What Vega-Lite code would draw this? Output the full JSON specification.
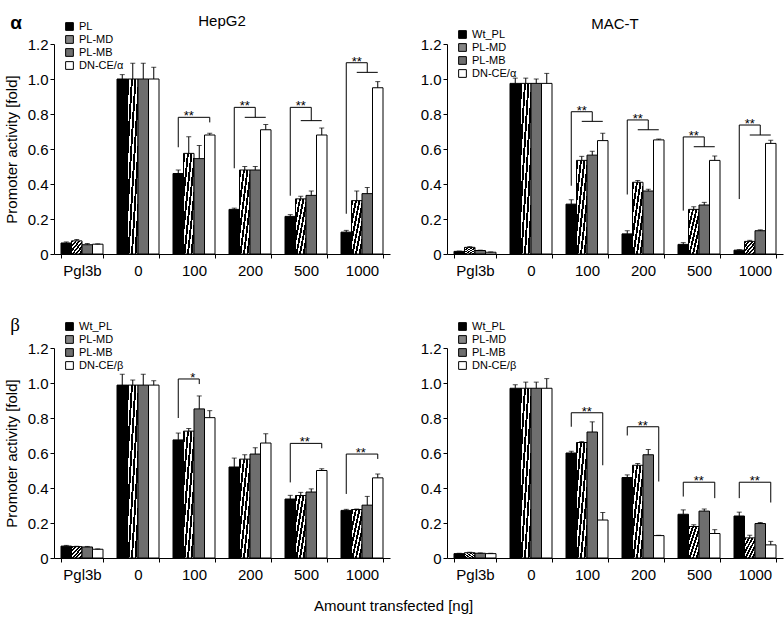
{
  "$schema": "https://vega.github.io/schema/vega-lite/v6.json",
  "padding": {"left": 4, "top": 14, "right": 2, "bottom": 5},
  "datasets": {
    "bars": [
      {"panel": "HepG2 α", "group": "Pgl3b", "series": "PL", "value": 0.063, "upper": 0.069},
      {"panel": "HepG2 α", "group": "Pgl3b", "series": "PL-MD", "value": 0.075, "upper": 0.083},
      {"panel": "HepG2 α", "group": "Pgl3b", "series": "PL-MB", "value": 0.053, "upper": 0.06},
      {"panel": "HepG2 α", "group": "Pgl3b", "series": "DN-CE", "value": 0.056, "upper": 0.058},
      {"panel": "HepG2 α", "group": "0", "series": "PL", "value": 1.0, "upper": 1.025},
      {"panel": "HepG2 α", "group": "0", "series": "PL-MD", "value": 1.0, "upper": 1.09},
      {"panel": "HepG2 α", "group": "0", "series": "PL-MB", "value": 1.0, "upper": 1.09},
      {"panel": "HepG2 α", "group": "0", "series": "DN-CE", "value": 1.0, "upper": 1.067},
      {"panel": "HepG2 α", "group": "100", "series": "PL", "value": 0.46, "upper": 0.48},
      {"panel": "HepG2 α", "group": "100", "series": "PL-MD", "value": 0.575, "upper": 0.67},
      {"panel": "HepG2 α", "group": "100", "series": "PL-MB", "value": 0.545, "upper": 0.62},
      {"panel": "HepG2 α", "group": "100", "series": "DN-CE", "value": 0.68, "upper": 0.69},
      {"panel": "HepG2 α", "group": "200", "series": "PL", "value": 0.255, "upper": 0.262},
      {"panel": "HepG2 α", "group": "200", "series": "PL-MD", "value": 0.48, "upper": 0.5},
      {"panel": "HepG2 α", "group": "200", "series": "PL-MB", "value": 0.48, "upper": 0.5},
      {"panel": "HepG2 α", "group": "200", "series": "DN-CE", "value": 0.71, "upper": 0.74},
      {"panel": "HepG2 α", "group": "500", "series": "PL", "value": 0.215, "upper": 0.225},
      {"panel": "HepG2 α", "group": "500", "series": "PL-MD", "value": 0.315, "upper": 0.33},
      {"panel": "HepG2 α", "group": "500", "series": "PL-MB", "value": 0.335, "upper": 0.36},
      {"panel": "HepG2 α", "group": "500", "series": "DN-CE", "value": 0.68, "upper": 0.72},
      {"panel": "HepG2 α", "group": "1000", "series": "PL", "value": 0.125, "upper": 0.135},
      {"panel": "HepG2 α", "group": "1000", "series": "PL-MD", "value": 0.305, "upper": 0.36},
      {"panel": "HepG2 α", "group": "1000", "series": "PL-MB", "value": 0.345, "upper": 0.38},
      {"panel": "HepG2 α", "group": "1000", "series": "DN-CE", "value": 0.95, "upper": 0.985},

      {"panel": "MAC-T α", "group": "Pgl3b", "series": "PL", "value": 0.015, "upper": 0.017},
      {"panel": "MAC-T α", "group": "Pgl3b", "series": "PL-MD", "value": 0.038, "upper": 0.042},
      {"panel": "MAC-T α", "group": "Pgl3b", "series": "PL-MB", "value": 0.02, "upper": 0.022},
      {"panel": "MAC-T α", "group": "Pgl3b", "series": "DN-CE", "value": 0.01, "upper": 0.012},
      {"panel": "MAC-T α", "group": "0", "series": "PL", "value": 0.975, "upper": 1.005},
      {"panel": "MAC-T α", "group": "0", "series": "PL-MD", "value": 0.975, "upper": 1.005},
      {"panel": "MAC-T α", "group": "0", "series": "PL-MB", "value": 0.975, "upper": 1.0},
      {"panel": "MAC-T α", "group": "0", "series": "DN-CE", "value": 0.975, "upper": 1.032},
      {"panel": "MAC-T α", "group": "100", "series": "PL", "value": 0.285, "upper": 0.31},
      {"panel": "MAC-T α", "group": "100", "series": "PL-MD", "value": 0.535, "upper": 0.558},
      {"panel": "MAC-T α", "group": "100", "series": "PL-MB", "value": 0.565, "upper": 0.587},
      {"panel": "MAC-T α", "group": "100", "series": "DN-CE", "value": 0.648, "upper": 0.69},
      {"panel": "MAC-T α", "group": "200", "series": "PL", "value": 0.115, "upper": 0.133},
      {"panel": "MAC-T α", "group": "200", "series": "PL-MD", "value": 0.41, "upper": 0.42},
      {"panel": "MAC-T α", "group": "200", "series": "PL-MB", "value": 0.36, "upper": 0.37},
      {"panel": "MAC-T α", "group": "200", "series": "DN-CE", "value": 0.652, "upper": 0.657},
      {"panel": "MAC-T α", "group": "500", "series": "PL", "value": 0.055, "upper": 0.065},
      {"panel": "MAC-T α", "group": "500", "series": "PL-MD", "value": 0.255, "upper": 0.27},
      {"panel": "MAC-T α", "group": "500", "series": "PL-MB", "value": 0.28, "upper": 0.295},
      {"panel": "MAC-T α", "group": "500", "series": "DN-CE", "value": 0.535, "upper": 0.56},
      {"panel": "MAC-T α", "group": "1000", "series": "PL", "value": 0.022, "upper": 0.025},
      {"panel": "MAC-T α", "group": "1000", "series": "PL-MD", "value": 0.072, "upper": 0.078},
      {"panel": "MAC-T α", "group": "1000", "series": "PL-MB", "value": 0.133, "upper": 0.138},
      {"panel": "MAC-T α", "group": "1000", "series": "DN-CE", "value": 0.632, "upper": 0.65},

      {"panel": "HepG2 β", "group": "Pgl3b", "series": "PL", "value": 0.068, "upper": 0.072},
      {"panel": "HepG2 β", "group": "Pgl3b", "series": "PL-MD", "value": 0.065, "upper": 0.067},
      {"panel": "HepG2 β", "group": "Pgl3b", "series": "PL-MB", "value": 0.063, "upper": 0.066},
      {"panel": "HepG2 β", "group": "Pgl3b", "series": "DN-CE", "value": 0.05, "upper": 0.052},
      {"panel": "HepG2 β", "group": "0", "series": "PL", "value": 0.988, "upper": 1.05},
      {"panel": "HepG2 β", "group": "0", "series": "PL-MD", "value": 0.988, "upper": 1.017},
      {"panel": "HepG2 β", "group": "0", "series": "PL-MB", "value": 0.988, "upper": 1.05},
      {"panel": "HepG2 β", "group": "0", "series": "DN-CE", "value": 0.988, "upper": 1.013},
      {"panel": "HepG2 β", "group": "100", "series": "PL", "value": 0.675, "upper": 0.714},
      {"panel": "HepG2 β", "group": "100", "series": "PL-MD", "value": 0.725, "upper": 0.74},
      {"panel": "HepG2 β", "group": "100", "series": "PL-MB", "value": 0.852, "upper": 0.926},
      {"panel": "HepG2 β", "group": "100", "series": "DN-CE", "value": 0.802, "upper": 0.842},
      {"panel": "HepG2 β", "group": "200", "series": "PL", "value": 0.52, "upper": 0.571},
      {"panel": "HepG2 β", "group": "200", "series": "PL-MD", "value": 0.565, "upper": 0.59},
      {"panel": "HepG2 β", "group": "200", "series": "PL-MB", "value": 0.594, "upper": 0.63},
      {"panel": "HepG2 β", "group": "200", "series": "DN-CE", "value": 0.657, "upper": 0.71},
      {"panel": "HepG2 β", "group": "500", "series": "PL", "value": 0.337, "upper": 0.358},
      {"panel": "HepG2 β", "group": "500", "series": "PL-MD", "value": 0.357, "upper": 0.375},
      {"panel": "HepG2 β", "group": "500", "series": "PL-MB", "value": 0.377, "upper": 0.395},
      {"panel": "HepG2 β", "group": "500", "series": "DN-CE", "value": 0.5, "upper": 0.51},
      {"panel": "HepG2 β", "group": "1000", "series": "PL", "value": 0.272, "upper": 0.278},
      {"panel": "HepG2 β", "group": "1000", "series": "PL-MD", "value": 0.277, "upper": 0.28},
      {"panel": "HepG2 β", "group": "1000", "series": "PL-MB", "value": 0.302, "upper": 0.352},
      {"panel": "HepG2 β", "group": "1000", "series": "DN-CE", "value": 0.458, "upper": 0.48},

      {"panel": "MAC-T β", "group": "Pgl3b", "series": "PL", "value": 0.025, "upper": 0.027},
      {"panel": "MAC-T β", "group": "Pgl3b", "series": "PL-MD", "value": 0.03, "upper": 0.033},
      {"panel": "MAC-T β", "group": "Pgl3b", "series": "PL-MB", "value": 0.027, "upper": 0.029},
      {"panel": "MAC-T β", "group": "Pgl3b", "series": "DN-CE", "value": 0.025, "upper": 0.027},
      {"panel": "MAC-T β", "group": "0", "series": "PL", "value": 0.97, "upper": 0.99},
      {"panel": "MAC-T β", "group": "0", "series": "PL-MD", "value": 0.97, "upper": 1.005},
      {"panel": "MAC-T β", "group": "0", "series": "PL-MB", "value": 0.97, "upper": 1.005},
      {"panel": "MAC-T β", "group": "0", "series": "DN-CE", "value": 0.97, "upper": 1.025},
      {"panel": "MAC-T β", "group": "100", "series": "PL", "value": 0.6, "upper": 0.61},
      {"panel": "MAC-T β", "group": "100", "series": "PL-MD", "value": 0.66, "upper": 0.665},
      {"panel": "MAC-T β", "group": "100", "series": "PL-MB", "value": 0.72, "upper": 0.778},
      {"panel": "MAC-T β", "group": "100", "series": "DN-CE", "value": 0.217, "upper": 0.26},
      {"panel": "MAC-T β", "group": "200", "series": "PL", "value": 0.46, "upper": 0.475},
      {"panel": "MAC-T β", "group": "200", "series": "PL-MD", "value": 0.53, "upper": 0.54},
      {"panel": "MAC-T β", "group": "200", "series": "PL-MB", "value": 0.59, "upper": 0.62},
      {"panel": "MAC-T β", "group": "200", "series": "DN-CE", "value": 0.128, "upper": 0.13},
      {"panel": "MAC-T β", "group": "500", "series": "PL", "value": 0.25, "upper": 0.275},
      {"panel": "MAC-T β", "group": "500", "series": "PL-MD", "value": 0.18, "upper": 0.19},
      {"panel": "MAC-T β", "group": "500", "series": "PL-MB", "value": 0.268, "upper": 0.28},
      {"panel": "MAC-T β", "group": "500", "series": "DN-CE", "value": 0.14, "upper": 0.162},
      {"panel": "MAC-T β", "group": "1000", "series": "PL", "value": 0.24, "upper": 0.262},
      {"panel": "MAC-T β", "group": "1000", "series": "PL-MD", "value": 0.115, "upper": 0.13},
      {"panel": "MAC-T β", "group": "1000", "series": "PL-MB", "value": 0.197, "upper": 0.203},
      {"panel": "MAC-T β", "group": "1000", "series": "DN-CE", "value": 0.075, "upper": 0.095}
    ],
    "brackets": [
      {"panel": "HepG2 α", "id": "a100", "ord": 1, "group": "100", "series": "PL", "y": 0.61},
      {"panel": "HepG2 α", "id": "a100", "ord": 2, "group": "100", "series": "PL", "y": 0.781},
      {"panel": "HepG2 α", "id": "a100", "ord": 3, "group": "100", "series": "DN-CE", "y": 0.781},
      {"panel": "HepG2 α", "id": "a100", "ord": 4, "group": "100", "series": "DN-CE", "y": 0.752},
      {"panel": "HepG2 α", "id": "a200", "ord": 1, "group": "200", "series": "PL", "y": 0.49},
      {"panel": "HepG2 α", "id": "a200", "ord": 2, "group": "200", "series": "PL", "y": 0.838},
      {"panel": "HepG2 α", "id": "a200", "ord": 3, "group": "200", "series": "PL-MB", "y": 0.838},
      {"panel": "HepG2 α", "id": "a200", "ord": 4, "group": "200", "series": "PL-MB", "y": 0.781},
      {"panel": "HepG2 α", "id": "b200", "ord": 1, "group": "200", "series": "PL-MD", "y": 0.781},
      {"panel": "HepG2 α", "id": "b200", "ord": 2, "group": "200", "series": "DN-CE", "y": 0.781},
      {"panel": "HepG2 α", "id": "a500", "ord": 1, "group": "500", "series": "PL", "y": 0.333},
      {"panel": "HepG2 α", "id": "a500", "ord": 2, "group": "500", "series": "PL", "y": 0.838},
      {"panel": "HepG2 α", "id": "a500", "ord": 3, "group": "500", "series": "PL-MB", "y": 0.838},
      {"panel": "HepG2 α", "id": "a500", "ord": 4, "group": "500", "series": "PL-MB", "y": 0.762},
      {"panel": "HepG2 α", "id": "b500", "ord": 1, "group": "500", "series": "PL-MD", "y": 0.762},
      {"panel": "HepG2 α", "id": "b500", "ord": 2, "group": "500", "series": "DN-CE", "y": 0.762},
      {"panel": "HepG2 α", "id": "a1000", "ord": 1, "group": "1000", "series": "PL", "y": 0.23},
      {"panel": "HepG2 α", "id": "a1000", "ord": 2, "group": "1000", "series": "PL", "y": 1.093},
      {"panel": "HepG2 α", "id": "a1000", "ord": 3, "group": "1000", "series": "PL-MB", "y": 1.093},
      {"panel": "HepG2 α", "id": "a1000", "ord": 4, "group": "1000", "series": "PL-MB", "y": 1.038},
      {"panel": "HepG2 α", "id": "b1000", "ord": 1, "group": "1000", "series": "PL-MD", "y": 1.038},
      {"panel": "HepG2 α", "id": "b1000", "ord": 2, "group": "1000", "series": "DN-CE", "y": 1.038},

      {"panel": "MAC-T α", "id": "a100", "ord": 1, "group": "100", "series": "PL", "y": 0.39},
      {"panel": "MAC-T α", "id": "a100", "ord": 2, "group": "100", "series": "PL", "y": 0.813},
      {"panel": "MAC-T α", "id": "a100", "ord": 3, "group": "100", "series": "PL-MB", "y": 0.813},
      {"panel": "MAC-T α", "id": "a100", "ord": 4, "group": "100", "series": "PL-MB", "y": 0.758},
      {"panel": "MAC-T α", "id": "b100", "ord": 1, "group": "100", "series": "PL-MD", "y": 0.758},
      {"panel": "MAC-T α", "id": "b100", "ord": 2, "group": "100", "series": "DN-CE", "y": 0.758},
      {"panel": "MAC-T α", "id": "a200", "ord": 1, "group": "200", "series": "PL", "y": 0.34},
      {"panel": "MAC-T α", "id": "a200", "ord": 2, "group": "200", "series": "PL", "y": 0.766},
      {"panel": "MAC-T α", "id": "a200", "ord": 3, "group": "200", "series": "PL-MB", "y": 0.766},
      {"panel": "MAC-T α", "id": "a200", "ord": 4, "group": "200", "series": "PL-MB", "y": 0.71},
      {"panel": "MAC-T α", "id": "b200", "ord": 1, "group": "200", "series": "PL-MD", "y": 0.71},
      {"panel": "MAC-T α", "id": "b200", "ord": 2, "group": "200", "series": "DN-CE", "y": 0.71},
      {"panel": "MAC-T α", "id": "a500", "ord": 1, "group": "500", "series": "PL", "y": 0.248},
      {"panel": "MAC-T α", "id": "a500", "ord": 2, "group": "500", "series": "PL", "y": 0.669},
      {"panel": "MAC-T α", "id": "a500", "ord": 3, "group": "500", "series": "PL-MB", "y": 0.669},
      {"panel": "MAC-T α", "id": "a500", "ord": 4, "group": "500", "series": "PL-MB", "y": 0.613},
      {"panel": "MAC-T α", "id": "b500", "ord": 1, "group": "500", "series": "PL-MD", "y": 0.613},
      {"panel": "MAC-T α", "id": "b500", "ord": 2, "group": "500", "series": "DN-CE", "y": 0.613},
      {"panel": "MAC-T α", "id": "a1000", "ord": 1, "group": "1000", "series": "PL", "y": 0.314},
      {"panel": "MAC-T α", "id": "a1000", "ord": 2, "group": "1000", "series": "PL", "y": 0.737},
      {"panel": "MAC-T α", "id": "a1000", "ord": 3, "group": "1000", "series": "PL-MB", "y": 0.737},
      {"panel": "MAC-T α", "id": "a1000", "ord": 4, "group": "1000", "series": "PL-MB", "y": 0.68},
      {"panel": "MAC-T α", "id": "b1000", "ord": 1, "group": "1000", "series": "PL-MD", "y": 0.68},
      {"panel": "MAC-T α", "id": "b1000", "ord": 2, "group": "1000", "series": "DN-CE", "y": 0.68},

      {"panel": "HepG2 β", "id": "a100", "ord": 1, "group": "100", "series": "PL", "y": 0.8},
      {"panel": "HepG2 β", "id": "a100", "ord": 2, "group": "100", "series": "PL", "y": 1.023},
      {"panel": "HepG2 β", "id": "a100", "ord": 3, "group": "100", "series": "PL-MB", "y": 1.023},
      {"panel": "HepG2 β", "id": "a100", "ord": 4, "group": "100", "series": "PL-MB", "y": 0.994},
      {"panel": "HepG2 β", "id": "a500", "ord": 1, "group": "500", "series": "PL", "y": 0.432},
      {"panel": "HepG2 β", "id": "a500", "ord": 2, "group": "500", "series": "PL", "y": 0.655},
      {"panel": "HepG2 β", "id": "a500", "ord": 3, "group": "500", "series": "DN-CE", "y": 0.655},
      {"panel": "HepG2 β", "id": "a500", "ord": 4, "group": "500", "series": "DN-CE", "y": 0.627},
      {"panel": "HepG2 β", "id": "a1000", "ord": 1, "group": "1000", "series": "PL", "y": 0.366},
      {"panel": "HepG2 β", "id": "a1000", "ord": 2, "group": "1000", "series": "PL", "y": 0.594},
      {"panel": "HepG2 β", "id": "a1000", "ord": 3, "group": "1000", "series": "DN-CE", "y": 0.594},
      {"panel": "HepG2 β", "id": "a1000", "ord": 4, "group": "1000", "series": "DN-CE", "y": 0.566},

      {"panel": "MAC-T β", "id": "a100", "ord": 1, "group": "100", "series": "PL", "y": 0.75},
      {"panel": "MAC-T β", "id": "a100", "ord": 2, "group": "100", "series": "PL", "y": 0.83},
      {"panel": "MAC-T β", "id": "a100", "ord": 3, "group": "100", "series": "DN-CE", "y": 0.83},
      {"panel": "MAC-T β", "id": "a100", "ord": 4, "group": "100", "series": "DN-CE", "y": 0.53},
      {"panel": "MAC-T β", "id": "a200", "ord": 1, "group": "200", "series": "PL", "y": 0.7},
      {"panel": "MAC-T β", "id": "a200", "ord": 2, "group": "200", "series": "PL", "y": 0.75},
      {"panel": "MAC-T β", "id": "a200", "ord": 3, "group": "200", "series": "DN-CE", "y": 0.75},
      {"panel": "MAC-T β", "id": "a200", "ord": 4, "group": "200", "series": "DN-CE", "y": 0.437},
      {"panel": "MAC-T β", "id": "a500", "ord": 1, "group": "500", "series": "PL", "y": 0.351},
      {"panel": "MAC-T β", "id": "a500", "ord": 2, "group": "500", "series": "PL", "y": 0.433},
      {"panel": "MAC-T β", "id": "a500", "ord": 3, "group": "500", "series": "DN-CE", "y": 0.433},
      {"panel": "MAC-T β", "id": "a500", "ord": 4, "group": "500", "series": "DN-CE", "y": 0.342},
      {"panel": "MAC-T β", "id": "a1000", "ord": 1, "group": "1000", "series": "PL", "y": 0.342},
      {"panel": "MAC-T β", "id": "a1000", "ord": 2, "group": "1000", "series": "PL", "y": 0.433},
      {"panel": "MAC-T β", "id": "a1000", "ord": 3, "group": "1000", "series": "DN-CE", "y": 0.433},
      {"panel": "MAC-T β", "id": "a1000", "ord": 4, "group": "1000", "series": "DN-CE", "y": 0.317}
    ],
    "stars": [
      {"panel": "HepG2 α", "group": "100", "series": "PL-MD", "y": 0.781, "label": "**"},
      {"panel": "HepG2 α", "group": "200", "series": "PL-MD", "y": 0.838, "label": "**"},
      {"panel": "HepG2 α", "group": "500", "series": "PL-MD", "y": 0.838, "label": "**"},
      {"panel": "HepG2 α", "group": "1000", "series": "PL-MD", "y": 1.093, "label": "**"},
      {"panel": "MAC-T α", "group": "100", "series": "PL-MD", "y": 0.813, "label": "**"},
      {"panel": "MAC-T α", "group": "200", "series": "PL-MD", "y": 0.766, "label": "**"},
      {"panel": "MAC-T α", "group": "500", "series": "PL-MD", "y": 0.669, "label": "**"},
      {"panel": "MAC-T α", "group": "1000", "series": "PL-MD", "y": 0.737, "label": "**"},
      {"panel": "HepG2 β", "group": "100", "series": "PL-MD", "y": 1.023, "label": "*"},
      {"panel": "HepG2 β", "group": "500", "series": "PL-MD", "y": 0.655, "label": "**"},
      {"panel": "HepG2 β", "group": "1000", "series": "PL-MD", "y": 0.594, "label": "**"},
      {"panel": "MAC-T β", "group": "100", "series": "PL-MD", "y": 0.83, "label": "**"},
      {"panel": "MAC-T β", "group": "200", "series": "PL-MD", "y": 0.75, "label": "**"},
      {"panel": "MAC-T β", "group": "500", "series": "PL-MD", "y": 0.433, "label": "**"},
      {"panel": "MAC-T β", "group": "1000", "series": "PL-MD", "y": 0.433, "label": "**"}
    ]
  },
  "title": {"text": "Amount transfected [ng]", "orient": "bottom", "anchor": "middle", "fontSize": 15, "fontWeight": "normal", "offset": 17},
  "spacing": 38,
  "resolve": {"legend": {"fill": "independent"}},
  "vconcat": [
    {
      "title": {"text": "α", "anchor": "start", "frame": "bounds", "fontSize": 19, "fontWeight": "bold", "dy": 23, "dx": 6},
      "spacing": 30,
      "resolve": {"legend": {"fill": "independent"}},
      "hconcat": [
        {
          "width": 336, "height": 210,
          "title": {"text": "HepG2", "dy": 12},
          "encoding": {
            "x": {"field": "group", "type": "nominal", "sort": ["Pgl3b", "0", "100", "200", "500", "1000"], "scale": {"paddingInner": 0.25, "paddingOuter": 0.125}, "axis": {"title": null, "labelAngle": 0, "tickBand": "extent", "labelPadding": 5}},
            "xOffset": {"field": "series", "type": "nominal", "sort": ["PL", "PL-MD", "PL-MB", "DN-CE"]},
            "y": {"type": "quantitative", "scale": {"domain": [0, 1.2], "nice": false}, "title": "Promoter activity [fold]", "axis": {"values": [0, 0.2, 0.4, 0.6, 0.8, 1.0, 1.2], "tickCount": 7, "labelOverlap": false, "labelExpr": "datum.value === 0 ? '0' : format(datum.value, '.1f')", "titlePadding": 8}}
          },
          "layer": [
            {"data": {"name": "bars"}, "transform": [{"filter": "datum.panel === 'HepG2 α'"}],
             "mark": {"type": "bar", "stroke": "black", "strokeWidth": 1},
             "encoding": {
               "y": {"field": "value"},
               "fill": {"condition": {"test": "datum.series === 'PL-MD'", "value": {"gradient": "linear", "x1": 0, "y1": 0, "x2": 1, "y2": 1, "stops": [{"offset": 0, "color": "black"}, {"offset": 0.092, "color": "black"}, {"offset": 0.092, "color": "white"}, {"offset": 0.167, "color": "white"}, {"offset": 0.167, "color": "black"}, {"offset": 0.258, "color": "black"}, {"offset": 0.258, "color": "white"}, {"offset": 0.333, "color": "white"}, {"offset": 0.333, "color": "black"}, {"offset": 0.425, "color": "black"}, {"offset": 0.425, "color": "white"}, {"offset": 0.5, "color": "white"}, {"offset": 0.5, "color": "black"}, {"offset": 0.592, "color": "black"}, {"offset": 0.592, "color": "white"}, {"offset": 0.667, "color": "white"}, {"offset": 0.667, "color": "black"}, {"offset": 0.758, "color": "black"}, {"offset": 0.758, "color": "white"}, {"offset": 0.833, "color": "white"}, {"offset": 0.833, "color": "black"}, {"offset": 0.925, "color": "black"}, {"offset": 0.925, "color": "white"}, {"offset": 1, "color": "white"}]}},
                 "field": "series", "type": "nominal",
                 "scale": {"domain": ["PL", "PL-MD", "PL-MB", "DN-CE"], "range": ["black", "#858585", "#6e6e6e", "white"]},
                 "legend": {"orient": "none", "legendX": 10, "legendY": -23, "title": null, "labelExpr": "datum.value === 'DN-CE' ? 'DN-CE/α' : datum.value",
                   "encode": {"symbols": {"update": {"stroke": {"value": "black"}, "strokeWidth": {"value": 1}, "fill": [{"test": "datum.value === 'PL-MD'", "value": {"gradient": "linear", "x1": 0, "y1": 0, "x2": 1, "y2": 1, "stops": [{"offset": 0, "color": "black"}, {"offset": 0.2, "color": "black"}, {"offset": 0.2, "color": "white"}, {"offset": 0.33, "color": "white"}, {"offset": 0.33, "color": "black"}, {"offset": 0.53, "color": "black"}, {"offset": 0.53, "color": "white"}, {"offset": 0.67, "color": "white"}, {"offset": 0.67, "color": "black"}, {"offset": 0.87, "color": "black"}, {"offset": 0.87, "color": "white"}, {"offset": 1, "color": "white"}]}}, {"test": "datum.value === 'PL'", "value": "black"}, {"test": "datum.value === 'PL-MB'", "value": "#6e6e6e"}, {"value": "white"}]}}}}}
             }},
            {"data": {"name": "bars"}, "transform": [{"filter": "datum.panel === 'HepG2 α'"}],
             "mark": {"type": "rule", "color": "black", "strokeWidth": 1},
             "encoding": {"y": {"field": "value"}, "y2": {"field": "upper"}}},
            {"data": {"name": "bars"}, "transform": [{"filter": "datum.panel === 'HepG2 α'"}],
             "mark": {"type": "tick", "color": "black", "size": 5, "thickness": 1},
             "encoding": {"y": {"field": "upper"}}},
            {"data": {"name": "brackets"}, "transform": [{"filter": "datum.panel === 'HepG2 α'"}],
             "mark": {"type": "line", "color": "black", "strokeWidth": 1},
             "encoding": {"y": {"field": "y"}, "detail": {"field": "id"}, "order": {"field": "ord"}}},
            {"data": {"name": "stars"}, "transform": [{"filter": "datum.panel === 'HepG2 α'"}],
             "mark": {"type": "text", "fontSize": 13, "baseline": "alphabetic", "dy": 3},
             "encoding": {"y": {"field": "y"}, "text": {"field": "label"}}}
          ]
        },
        {
          "width": 336, "height": 210,
          "title": {"text": "MAC-T", "dy": 7},
          "encoding": {
            "x": {"field": "group", "type": "nominal", "sort": ["Pgl3b", "0", "100", "200", "500", "1000"], "scale": {"paddingInner": 0.25, "paddingOuter": 0.125}, "axis": {"title": null, "labelAngle": 0, "tickBand": "extent", "labelPadding": 5}},
            "xOffset": {"field": "series", "type": "nominal", "sort": ["PL", "PL-MD", "PL-MB", "DN-CE"]},
            "y": {"type": "quantitative", "scale": {"domain": [0, 1.2], "nice": false}, "title": null, "axis": {"values": [0, 0.2, 0.4, 0.6, 0.8, 1.0, 1.2], "tickCount": 7, "labelOverlap": false, "labelExpr": "datum.value === 0 ? '0' : format(datum.value, '.1f')"}}
          },
          "layer": [
            {"data": {"name": "bars"}, "transform": [{"filter": "datum.panel === 'MAC-T α'"}],
             "mark": {"type": "bar", "stroke": "black", "strokeWidth": 1},
             "encoding": {
               "y": {"field": "value"},
               "fill": {"condition": {"test": "datum.series === 'PL-MD'", "value": {"gradient": "linear", "x1": 0, "y1": 0, "x2": 1, "y2": 1, "stops": [{"offset": 0, "color": "black"}, {"offset": 0.092, "color": "black"}, {"offset": 0.092, "color": "white"}, {"offset": 0.167, "color": "white"}, {"offset": 0.167, "color": "black"}, {"offset": 0.258, "color": "black"}, {"offset": 0.258, "color": "white"}, {"offset": 0.333, "color": "white"}, {"offset": 0.333, "color": "black"}, {"offset": 0.425, "color": "black"}, {"offset": 0.425, "color": "white"}, {"offset": 0.5, "color": "white"}, {"offset": 0.5, "color": "black"}, {"offset": 0.592, "color": "black"}, {"offset": 0.592, "color": "white"}, {"offset": 0.667, "color": "white"}, {"offset": 0.667, "color": "black"}, {"offset": 0.758, "color": "black"}, {"offset": 0.758, "color": "white"}, {"offset": 0.833, "color": "white"}, {"offset": 0.833, "color": "black"}, {"offset": 0.925, "color": "black"}, {"offset": 0.925, "color": "white"}, {"offset": 1, "color": "white"}]}},
                 "field": "series", "type": "nominal",
                 "scale": {"domain": ["PL", "PL-MD", "PL-MB", "DN-CE"], "range": ["black", "#858585", "#6e6e6e", "white"]},
                 "legend": {"orient": "none", "legendX": 10, "legendY": -15, "title": null, "labelExpr": "datum.value === 'DN-CE' ? 'DN-CE/α' : datum.value === 'PL' ? 'Wt_PL' : datum.value",
                   "encode": {"symbols": {"update": {"stroke": {"value": "black"}, "strokeWidth": {"value": 1}, "fill": [{"test": "datum.value === 'PL-MD'", "value": {"gradient": "linear", "x1": 0, "y1": 0, "x2": 1, "y2": 1, "stops": [{"offset": 0, "color": "black"}, {"offset": 0.2, "color": "black"}, {"offset": 0.2, "color": "white"}, {"offset": 0.33, "color": "white"}, {"offset": 0.33, "color": "black"}, {"offset": 0.53, "color": "black"}, {"offset": 0.53, "color": "white"}, {"offset": 0.67, "color": "white"}, {"offset": 0.67, "color": "black"}, {"offset": 0.87, "color": "black"}, {"offset": 0.87, "color": "white"}, {"offset": 1, "color": "white"}]}}, {"test": "datum.value === 'PL'", "value": "black"}, {"test": "datum.value === 'PL-MB'", "value": "#6e6e6e"}, {"value": "white"}]}}}}}
             }},
            {"data": {"name": "bars"}, "transform": [{"filter": "datum.panel === 'MAC-T α'"}],
             "mark": {"type": "rule", "color": "black", "strokeWidth": 1},
             "encoding": {"y": {"field": "value"}, "y2": {"field": "upper"}}},
            {"data": {"name": "bars"}, "transform": [{"filter": "datum.panel === 'MAC-T α'"}],
             "mark": {"type": "tick", "color": "black", "size": 5, "thickness": 1},
             "encoding": {"y": {"field": "upper"}}},
            {"data": {"name": "brackets"}, "transform": [{"filter": "datum.panel === 'MAC-T α'"}],
             "mark": {"type": "line", "color": "black", "strokeWidth": 1},
             "encoding": {"y": {"field": "y"}, "detail": {"field": "id"}, "order": {"field": "ord"}}},
            {"data": {"name": "stars"}, "transform": [{"filter": "datum.panel === 'MAC-T α'"}],
             "mark": {"type": "text", "fontSize": 13, "baseline": "alphabetic", "dy": 3},
             "encoding": {"y": {"field": "y"}, "text": {"field": "label"}}}
          ]
        }
      ]
    },
    {
      "title": {"text": "β", "anchor": "start", "frame": "bounds", "fontSize": 19, "font": "Liberation Serif", "fontWeight": "normal", "dy": 18, "dx": 6},
      "spacing": 30,
      "resolve": {"legend": {"fill": "independent"}},
      "hconcat": [
        {
          "width": 336, "height": 210,
          "encoding": {
            "x": {"field": "group", "type": "nominal", "sort": ["Pgl3b", "0", "100", "200", "500", "1000"], "scale": {"paddingInner": 0.25, "paddingOuter": 0.125}, "axis": {"title": null, "labelAngle": 0, "tickBand": "extent", "labelPadding": 5}},
            "xOffset": {"field": "series", "type": "nominal", "sort": ["PL", "PL-MD", "PL-MB", "DN-CE"]},
            "y": {"type": "quantitative", "scale": {"domain": [0, 1.2], "nice": false}, "title": "Promoter activity [fold]", "axis": {"values": [0, 0.2, 0.4, 0.6, 0.8, 1.0, 1.2], "tickCount": 7, "labelOverlap": false, "labelExpr": "datum.value === 0 ? '0' : format(datum.value, '.1f')", "titlePadding": 8}}
          },
          "layer": [
            {"data": {"name": "bars"}, "transform": [{"filter": "datum.panel === 'HepG2 β'"}],
             "mark": {"type": "bar", "stroke": "black", "strokeWidth": 1},
             "encoding": {
               "y": {"field": "value"},
               "fill": {"condition": {"test": "datum.series === 'PL-MD'", "value": {"gradient": "linear", "x1": 0, "y1": 0, "x2": 1, "y2": 1, "stops": [{"offset": 0, "color": "black"}, {"offset": 0.092, "color": "black"}, {"offset": 0.092, "color": "white"}, {"offset": 0.167, "color": "white"}, {"offset": 0.167, "color": "black"}, {"offset": 0.258, "color": "black"}, {"offset": 0.258, "color": "white"}, {"offset": 0.333, "color": "white"}, {"offset": 0.333, "color": "black"}, {"offset": 0.425, "color": "black"}, {"offset": 0.425, "color": "white"}, {"offset": 0.5, "color": "white"}, {"offset": 0.5, "color": "black"}, {"offset": 0.592, "color": "black"}, {"offset": 0.592, "color": "white"}, {"offset": 0.667, "color": "white"}, {"offset": 0.667, "color": "black"}, {"offset": 0.758, "color": "black"}, {"offset": 0.758, "color": "white"}, {"offset": 0.833, "color": "white"}, {"offset": 0.833, "color": "black"}, {"offset": 0.925, "color": "black"}, {"offset": 0.925, "color": "white"}, {"offset": 1, "color": "white"}]}},
                 "field": "series", "type": "nominal",
                 "scale": {"domain": ["PL", "PL-MD", "PL-MB", "DN-CE"], "range": ["black", "#858585", "#6e6e6e", "white"]},
                 "legend": {"orient": "none", "legendX": 10, "legendY": -27, "title": null, "labelExpr": "datum.value === 'DN-CE' ? 'DN-CE/β' : datum.value === 'PL' ? 'Wt_PL' : datum.value",
                   "encode": {"symbols": {"update": {"stroke": {"value": "black"}, "strokeWidth": {"value": 1}, "fill": [{"test": "datum.value === 'PL-MD'", "value": {"gradient": "linear", "x1": 0, "y1": 0, "x2": 1, "y2": 1, "stops": [{"offset": 0, "color": "black"}, {"offset": 0.2, "color": "black"}, {"offset": 0.2, "color": "white"}, {"offset": 0.33, "color": "white"}, {"offset": 0.33, "color": "black"}, {"offset": 0.53, "color": "black"}, {"offset": 0.53, "color": "white"}, {"offset": 0.67, "color": "white"}, {"offset": 0.67, "color": "black"}, {"offset": 0.87, "color": "black"}, {"offset": 0.87, "color": "white"}, {"offset": 1, "color": "white"}]}}, {"test": "datum.value === 'PL'", "value": "black"}, {"test": "datum.value === 'PL-MB'", "value": "#6e6e6e"}, {"value": "white"}]}}}}}
             }},
            {"data": {"name": "bars"}, "transform": [{"filter": "datum.panel === 'HepG2 β'"}],
             "mark": {"type": "rule", "color": "black", "strokeWidth": 1},
             "encoding": {"y": {"field": "value"}, "y2": {"field": "upper"}}},
            {"data": {"name": "bars"}, "transform": [{"filter": "datum.panel === 'HepG2 β'"}],
             "mark": {"type": "tick", "color": "black", "size": 5, "thickness": 1},
             "encoding": {"y": {"field": "upper"}}},
            {"data": {"name": "brackets"}, "transform": [{"filter": "datum.panel === 'HepG2 β'"}],
             "mark": {"type": "line", "color": "black", "strokeWidth": 1},
             "encoding": {"y": {"field": "y"}, "detail": {"field": "id"}, "order": {"field": "ord"}}},
            {"data": {"name": "stars"}, "transform": [{"filter": "datum.panel === 'HepG2 β'"}],
             "mark": {"type": "text", "fontSize": 13, "baseline": "alphabetic", "dy": 3, "dx": 4},
             "encoding": {"y": {"field": "y"}, "text": {"field": "label"}}}
          ]
        },
        {
          "width": 336, "height": 210,
          "encoding": {
            "x": {"field": "group", "type": "nominal", "sort": ["Pgl3b", "0", "100", "200", "500", "1000"], "scale": {"paddingInner": 0.25, "paddingOuter": 0.125}, "axis": {"title": null, "labelAngle": 0, "tickBand": "extent", "labelPadding": 5}},
            "xOffset": {"field": "series", "type": "nominal", "sort": ["PL", "PL-MD", "PL-MB", "DN-CE"]},
            "y": {"type": "quantitative", "scale": {"domain": [0, 1.2], "nice": false}, "title": null, "axis": {"values": [0, 0.2, 0.4, 0.6, 0.8, 1.0, 1.2], "tickCount": 7, "labelOverlap": false, "labelExpr": "datum.value === 0 ? '0' : format(datum.value, '.1f')"}}
          },
          "layer": [
            {"data": {"name": "bars"}, "transform": [{"filter": "datum.panel === 'MAC-T β'"}],
             "mark": {"type": "bar", "stroke": "black", "strokeWidth": 1},
             "encoding": {
               "y": {"field": "value"},
               "fill": {"condition": {"test": "datum.series === 'PL-MD'", "value": {"gradient": "linear", "x1": 0, "y1": 0, "x2": 1, "y2": 1, "stops": [{"offset": 0, "color": "black"}, {"offset": 0.092, "color": "black"}, {"offset": 0.092, "color": "white"}, {"offset": 0.167, "color": "white"}, {"offset": 0.167, "color": "black"}, {"offset": 0.258, "color": "black"}, {"offset": 0.258, "color": "white"}, {"offset": 0.333, "color": "white"}, {"offset": 0.333, "color": "black"}, {"offset": 0.425, "color": "black"}, {"offset": 0.425, "color": "white"}, {"offset": 0.5, "color": "white"}, {"offset": 0.5, "color": "black"}, {"offset": 0.592, "color": "black"}, {"offset": 0.592, "color": "white"}, {"offset": 0.667, "color": "white"}, {"offset": 0.667, "color": "black"}, {"offset": 0.758, "color": "black"}, {"offset": 0.758, "color": "white"}, {"offset": 0.833, "color": "white"}, {"offset": 0.833, "color": "black"}, {"offset": 0.925, "color": "black"}, {"offset": 0.925, "color": "white"}, {"offset": 1, "color": "white"}]}},
                 "field": "series", "type": "nominal",
                 "scale": {"domain": ["PL", "PL-MD", "PL-MB", "DN-CE"], "range": ["black", "#858585", "#6e6e6e", "white"]},
                 "legend": {"orient": "none", "legendX": 10, "legendY": -27, "title": null, "labelExpr": "datum.value === 'DN-CE' ? 'DN-CE/β' : datum.value === 'PL' ? 'Wt_PL' : datum.value",
                   "encode": {"symbols": {"update": {"stroke": {"value": "black"}, "strokeWidth": {"value": 1}, "fill": [{"test": "datum.value === 'PL-MD'", "value": {"gradient": "linear", "x1": 0, "y1": 0, "x2": 1, "y2": 1, "stops": [{"offset": 0, "color": "black"}, {"offset": 0.2, "color": "black"}, {"offset": 0.2, "color": "white"}, {"offset": 0.33, "color": "white"}, {"offset": 0.33, "color": "black"}, {"offset": 0.53, "color": "black"}, {"offset": 0.53, "color": "white"}, {"offset": 0.67, "color": "white"}, {"offset": 0.67, "color": "black"}, {"offset": 0.87, "color": "black"}, {"offset": 0.87, "color": "white"}, {"offset": 1, "color": "white"}]}}, {"test": "datum.value === 'PL'", "value": "black"}, {"test": "datum.value === 'PL-MB'", "value": "#6e6e6e"}, {"value": "white"}]}}}}}
             }},
            {"data": {"name": "bars"}, "transform": [{"filter": "datum.panel === 'MAC-T β'"}],
             "mark": {"type": "rule", "color": "black", "strokeWidth": 1},
             "encoding": {"y": {"field": "value"}, "y2": {"field": "upper"}}},
            {"data": {"name": "bars"}, "transform": [{"filter": "datum.panel === 'MAC-T β'"}],
             "mark": {"type": "tick", "color": "black", "size": 5, "thickness": 1},
             "encoding": {"y": {"field": "upper"}}},
            {"data": {"name": "brackets"}, "transform": [{"filter": "datum.panel === 'MAC-T β'"}],
             "mark": {"type": "line", "color": "black", "strokeWidth": 1},
             "encoding": {"y": {"field": "y"}, "detail": {"field": "id"}, "order": {"field": "ord"}}},
            {"data": {"name": "stars"}, "transform": [{"filter": "datum.panel === 'MAC-T β'"}],
             "mark": {"type": "text", "fontSize": 13, "baseline": "alphabetic", "dy": 3, "dx": 5},
             "encoding": {"y": {"field": "y"}, "text": {"field": "label"}}}
          ]
        }
      ]
    }
  ],
  "config": {
    "font": "Liberation Sans",
    "background": "white",
    "view": {"stroke": null},
    "axis": {"domainColor": "black", "tickColor": "black", "labelColor": "black", "titleColor": "black", "grid": false, "labelFontSize": 15, "titleFontSize": 15, "titleFontWeight": "normal", "tickSize": 4, "labelPadding": 2, "labelFont": "Liberation Sans", "titleFont": "Liberation Sans"},
    "axisY": {"labelOverlap": false},
    "legend": {"labelFontSize": 11, "labelColor": "black", "symbolType": "square", "symbolSize": 60, "symbolStrokeColor": "black", "symbolStrokeWidth": 1, "rowPadding": 0, "labelOffset": 4, "padding": 0},
    "title": {"fontSize": 15, "fontWeight": "normal", "color": "black", "font": "Liberation Sans"}
  }
}
